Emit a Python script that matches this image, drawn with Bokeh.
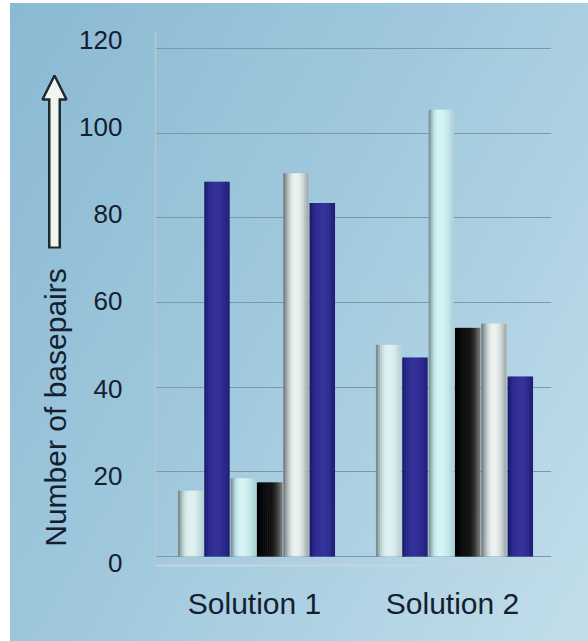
from math import pi

from bokeh.core.properties import value
from bokeh.embed import file_html
from bokeh.layouts import row
from bokeh.models import (Arrow, ColumnDataSource, FactorRange, FixedTicker, Grid,
                          LinearAxis, NormalHead, Range1d)
from bokeh.plotting import figure
from bokeh.resources import INLINE
from bokeh.transform import dodge

# ---- data -------------------------------------------------------------
categories = ["Solution 1", "Solution 2"]
series_1 = [15.5, 50.0]    # pale grey-green
series_2 = [88.5, 47.0]    # dark blue
series_3 = [18.5, 105.5]   # pale cyan
series_4 = [17.5, 54.0]    # black
series_5 = [90.5, 55.0]    # silver
series_6 = [83.5, 42.5]    # dark blue
y_ticks = [0, 20, 40, 60, 80, 100, 120]
y_title = "Number of basepairs"

# ---- cylinder-like shading profiles (left edge -> right edge) ---------
PALE = ["#7d8d90", "#b9cfd0", "#dbeeee", "#e2f2f1", "#dcefee", "#d0e6e6", "#bcd4d6"]
BLUE = ["#1c1a70", "#2c2a8c", "#332f98", "#34319a", "#302e94", "#2a288a", "#211f78"]
CYAN = ["#7f979c", "#b9dfe4", "#d4f3f6", "#d8f5f8", "#d0eff2", "#c3e6ea", "#aed3d8"]
BLACK = ["#000000", "#050505", "#0a0a0a", "#0e0e0e", "#1a1a1a", "#3a3a3a", "#6d6d6d"]
SILVER = ["#7a8082", "#b8c0c0", "#e4eaea", "#eef2f2", "#e6ecec", "#ccd4d4", "#a8b0b0"]


def hex_to_rgb(h):
    h = h.lstrip("#")
    return [int(h[i:i + 2], 16) for i in (0, 2, 4)]


def shade(stops, t):
    pos = t * (len(stops) - 1)
    i = min(int(pos), len(stops) - 2)
    f = pos - i
    a, b = hex_to_rgb(stops[i]), hex_to_rgb(stops[i + 1])
    return "#%02x%02x%02x" % tuple(round(a[k] + (b[k] - a[k]) * f) for k in range(3))


W, H = 588, 641
SIDE_W = 74                      # strip holding the axis title and arrow
FRAME_L, FRAME_R, FRAME_T, FRAME_B = 155, 551, 31, 565
TEXT = "#142030"
DARK = "#1e2a30"
PALE_FILL = "#eef6ef"

# ---- left strip: rotated axis title with an upward arrow --------------
# its frame shares the main chart's top/bottom borders; the y range is
# chosen so that data y equals (H - pixel row)
side = figure(width=SIDE_W, height=H,
              x_range=Range1d(0, SIDE_W), y_range=Range1d(H - FRAME_B, H - FRAME_T),
              output_backend="svg", toolbar_location=None,
              x_axis_location=None, y_axis_location=None,
              min_border_left=0, min_border_right=0,
              min_border_top=FRAME_T, min_border_bottom=H - FRAME_B)
side.background_fill_alpha = 0
side.border_fill_alpha = 0
side.outline_line_color = None
side.xgrid.visible = False
side.ygrid.visible = False


def up(y):
    return H - y


side.text(x=[55], y=[up(407)], text=[y_title], angle=pi / 2,
          text_align="center", text_baseline="middle",
          text_font=value("Liberation Sans"), text_font_size="30px",
          text_color=TEXT)
side.add_layout(Arrow(x_start=54, y_start=up(248), x_end=54, y_end=up(92),
                      end=None, line_width=13, line_color=DARK))
side.add_layout(Arrow(x_start=54, y_start=up(110), x_end=54, y_end=up(75),
                      end=NormalHead(size=24, fill_color=PALE_FILL,
                                     line_color=DARK, line_width=2.5),
                      line_alpha=0))
side.add_layout(Arrow(x_start=54, y_start=up(246), x_end=54, y_end=up(90),
                      end=None, line_width=8, line_color=PALE_FILL))

# ---- main chart -------------------------------------------------------
p = figure(
    x_range=FactorRange(*categories),
    y_range=Range1d(-2.13, 124.0),
    width=W - SIDE_W, height=H,
    output_backend="svg", toolbar_location=None,
    y_axis_location=None,
    min_border_left=FRAME_L - SIDE_W, min_border_right=W - FRAME_R,
    min_border_top=FRAME_T, min_border_bottom=H - FRAME_B,
)
p.background_fill_alpha = 0
p.border_fill_alpha = 0
p.outline_line_color = None

# horizontal grid on the main scale
p.add_layout(Grid(dimension=1, ticker=FixedTicker(ticks=y_ticks),
                  grid_line_color="#7f96a6", grid_line_width=1))
p.xgrid.grid_line_color = None

# value axis (labels sit on a slightly stretched perspective scale)
p.extra_y_ranges = {"ticks": Range1d(-0.574, 121.85)}
yax = LinearAxis(y_range_name="ticks", ticker=FixedTicker(ticks=y_ticks))
yax.axis_line_color = "#b9c6ce"
yax.axis_line_width = 1.5
yax.major_tick_line_color = None
yax.minor_tick_line_color = None
yax.major_label_standoff = 27
yax.major_label_text_font = "Liberation Sans"
yax.major_label_text_font_size = "26px"
yax.major_label_text_color = TEXT
p.add_layout(yax, "left")

xax = p.xaxis[0]
xax.axis_line_color = "#c9d3d8"
xax.axis_line_width = 2
xax.major_tick_line_color = None
xax.minor_tick_line_color = None
xax.major_label_standoff = 15
xax.major_label_text_font = "Liberation Sans"
xax.major_label_text_font_size = "30px"
xax.major_label_text_color = TEXT

# bars: each cylinder is built from thin vertical strips sharing one height
series = [
    (series_1, PALE), (series_2, BLUE), (series_3, CYAN),
    (series_4, BLACK), (series_5, SILVER), (series_6, BLUE),
]
PITCH = 0.133
BAR_W = 0.126
SLICES = 12
slice_w = BAR_W / SLICES
for i, (vals, stops) in enumerate(series):
    src = ColumnDataSource(dict(x=categories, top=vals))
    center = (i - 2.5) * PITCH + 0.01
    for k in range(SLICES):
        off = center + (k - (SLICES - 1) / 2) * slice_w
        p.vbar(x=dodge("x", off, range=p.x_range), top="top", bottom=0,
               width=slice_w * 1.25, source=src,
               fill_color=shade(stops, k / (SLICES - 1)), line_color=None)

layout = row(side, p, spacing=0)
layout.styles = {
    "background-image": (
        "linear-gradient(to right, #ffffff 0 10px, transparent 10px),"
        "linear-gradient(to bottom, #ffffff 0 3px, transparent 3px),"
        "linear-gradient(120deg, #8ab9d2 0%, #9fc8dd 45%, #c2deea 100%)"
    ),
}

open("out.html", "w").write(file_html(layout, INLINE))
